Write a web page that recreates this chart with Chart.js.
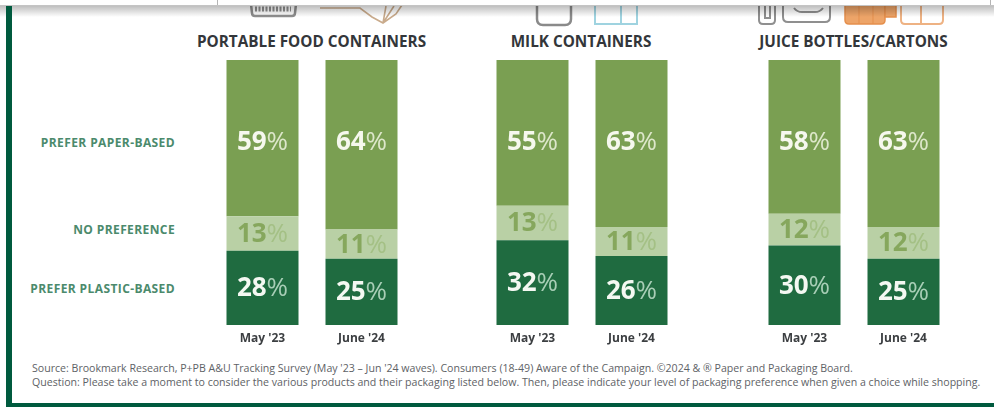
<!DOCTYPE html>
<html>
<head>
<meta charset="utf-8">
<title>Packaging preference</title>
<script src="https://cdn.jsdelivr.net/npm/chart.js@4/dist/chart.umd.min.js"></script>
<style>
  html, body { margin: 0; padding: 0; background: #fff; }
  body { position: relative; width: 994px; height: 407px; overflow: hidden; font-family: "Open Sans", sans-serif; }
  canvas { position: absolute; top: 0; }
  .icons { position: absolute; left: 0; top: 0; }
  .topbar { position: absolute; left: 0; top: 0; width: 994px; height: 5px; background: #fff; border-bottom: 1px solid #c4c4c4; }
  .topbar i { position: absolute; top: 0; width: 1px; height: 5px; background: #b5b5b5; }
  .shade { position: absolute; left: 0; top: 6px; width: 994px; height: 11px; background: linear-gradient(rgba(0,0,0,.25), rgba(0,0,0,0)); }
  .frame-left { position: absolute; left: 6px; top: 6px; width: 6px; height: 401px; background: #005a3e; }
  .frame-bottom { position: absolute; left: 6px; top: 403px; width: 988px; height: 4px; background: #005a3e; }
  .group-title { position: absolute; top: 31px; transform: translateX(-50%); white-space: nowrap; font-weight: 700; font-size: 15.3px; line-height: 20px; color: #33363a; }
  .row-label { position: absolute; right: 819px; white-space: nowrap; font-weight: 700; font-size: 12px; line-height: 16px; letter-spacing: .4px; color: #4b8a6c; }
  .note { position: absolute; left: 32px; white-space: nowrap; font-size: 10.6px; line-height: 14px; color: #5e6266; }
</style>
</head>
<body>

<svg class="icons" width="994" height="30" fill="none" stroke-width="2.5">
  <!-- product pictograms cut off by the bar at the top -->
  <path d="M251 4 L252 13 Q252 16 255 16 L292 16 Q295 16 295 13 L296 4" stroke="#8e8e8e"/>
  <path d="M255 9 H291" stroke="#8e8e8e" stroke-dasharray="2 1.5" stroke-width="5"/>
  <path d="M320 8 H360 L372 17 L383 23 L396 14 L402 5 M383 23 L386 6 M383 23 L394 6" stroke="#c9ab8c" stroke-width="1.6"/>
  <path d="M537 4 V19 Q537 25 543 25 L565 25 Q571 25 571 19 V4" stroke="#8a8a8a"/>
  <path d="M595 4 V24 H637 V4 M621 4 V24" stroke="#9fd3e0" stroke-width="2"/>
  <path d="M759 4 V20 Q759 24 763 24 H771 Q775 24 775 20 V4 M765 4 V18 H770 V4" stroke="#8f8f8f" stroke-width="2"/>
  <path d="M783 4 V17 Q783 22 788 22 H825 Q830 22 830 17 V4 M794 8 Q797 12 802 12 H815 Q820 12 823 8" stroke="#8f8f8f" stroke-width="2"/>
  <path d="M845 4 H885 V20 Q885 24 881 24 H849 Q845 24 845 20 Z" fill="#eda468" stroke="#e58f4c" stroke-width="1.5"/>
  <path d="M859 4 V24 M873 4 V24" stroke="#e58f4c" stroke-width="1"/>
  <path d="M885 4 H896 V17 H885 Z" fill="#eda468" stroke="#e58f4c" stroke-width="1.5"/>
  <path d="M901 4 V20 Q901 24 905 24 H939 Q943 24 943 20 V4 M921 4 V24" stroke="#eeb283" stroke-width="2"/>
</svg>
<div class="shade"></div>
<div class="topbar"><i style="left:217px"></i><i style="left:990px"></i></div>
<div class="frame-left"></div>
<div class="frame-bottom"></div>

<div class="group-title" style="left:311.5px">PORTABLE FOOD CONTAINERS</div>
<div class="group-title" style="left:581px">MILK CONTAINERS</div>
<div class="group-title" style="left:853.5px">JUICE BOTTLES/CARTONS</div>

<div class="row-label" style="top:135px">PREFER PAPER-BASED</div>
<div class="row-label" style="top:222px">NO PREFERENCE</div>
<div class="row-label" style="top:281px">PREFER PLASTIC-BASED</div>

<div class="note" style="top:361px">Source: Brookmark Research, P+PB A&amp;U Tracking Survey (May '23 – Jun '24 waves). Consumers (18-49) Aware of the Campaign. ©2024 &amp; ® Paper and Packaging Board.</div>
<div class="note" style="top:375px">Question: Please take a moment to consider the various products and their packaging listed below. Then, please indicate your level of packaging preference when given a choice while shopping.</div>

<canvas id="chartFood" style="left:212.5px"></canvas>
<canvas id="chartMilk" style="left:482.5px"></canvas>
<canvas id="chartJuice" style="left:754.5px"></canvas>

<script>
// Survey waves, one pair of bars per product
const waves = ["May '23", "June '24"];

const paperFood = [59, 64];
const noneFood = [13, 11];
const plasticFood = [28, 25];

const paperMilk = [55, 63];
const noneMilk = [13, 11];
const plasticMilk = [32, 26];

const paperJuice = [58, 63];
const noneJuice = [12, 12];
const plasticJuice = [30, 25];

// Draws "59%" with a bold number and a thin, paler percent sign
const percentLabels = {
    id: 'percentLabels',
    afterDatasetsDraw(chart) {
        const ctx = chart.ctx;
        ctx.save();
        ctx.textBaseline = 'middle';
        ctx.textAlign = 'left';

        chart.data.datasets.forEach((dataset, i) => {
            chart.getDatasetMeta(i).data.forEach((bar, j) => {
                const number = String(dataset.data[j]);
                ctx.font = '700 26px "Open Sans"';
                const numberWidth = ctx.measureText(number).width;
                ctx.font = '400 26px "Open Sans"';
                const signWidth = ctx.measureText('%').width;

                let x = bar.x - (numberWidth + signWidth) / 2;
                // paper labels sit on one line across all bars, the rest are centred
                const y = dataset.fixedLabel ? chart.chartArea.top + 83 : (bar.y + bar.base) / 2 + 1;

                ctx.font = '700 26px "Open Sans"';
                ctx.fillStyle = dataset.numberColor;
                ctx.fillText(number, x, y);
                x += numberWidth;
                ctx.font = '400 26px "Open Sans"';
                ctx.fillStyle = dataset.signColor;
                ctx.fillText('%', x, y);
            });
        });
        ctx.restore();
    }
};

function renderGroup(id, paper, none, plastic) {
    const canvas = document.getElementById(id);
    canvas.width = 198;
    canvas.height = 350;

    new Chart(canvas, {
        type: 'bar',
        data: {
            labels: waves,
            datasets: [
                { label: 'Prefer plastic-based', data: plastic, backgroundColor: '#1f6b40', numberColor: '#f4f8f2', signColor: '#a8ceb6' },
                { label: 'No preference', data: none, backgroundColor: '#b9d0a5', numberColor: '#86a75d', signColor: '#a4c085' },
                { label: 'Prefer paper-based', data: paper, backgroundColor: '#7a9f52', numberColor: '#f6f8ee', signColor: '#dde7ca', fixedLabel: true }
            ]
        },
        options: {
            responsive: false,
            animation: false,
            layout: { padding: { top: 60 } },
            datasets: { bar: { barPercentage: 72 / 99, categoryPercentage: 1, borderWidth: 0 } },
            plugins: {
                legend: { display: false },
                tooltip: { enabled: false }
            },
            scales: {
                x: {
                    stacked: true,
                    grid: { display: false, drawTicks: false },
                    border: { display: false },
                    ticks: {
                        color: '#3c3f42',
                        font: { family: '"Open Sans"', size: 12, weight: '700' },
                        padding: 6,
                        maxRotation: 0
                    },
                    afterFit(scale) { scale.height = 25; }
                },
                y: {
                    stacked: true,
                    display: false,
                    min: 0,
                    max: 100
                }
            }
        },
        plugins: [percentLabels]
    });
}

renderGroup('chartFood', paperFood, noneFood, plasticFood);
renderGroup('chartMilk', paperMilk, noneMilk, plasticMilk);
renderGroup('chartJuice', paperJuice, noneJuice, plasticJuice);
</script>
</body>
</html>
